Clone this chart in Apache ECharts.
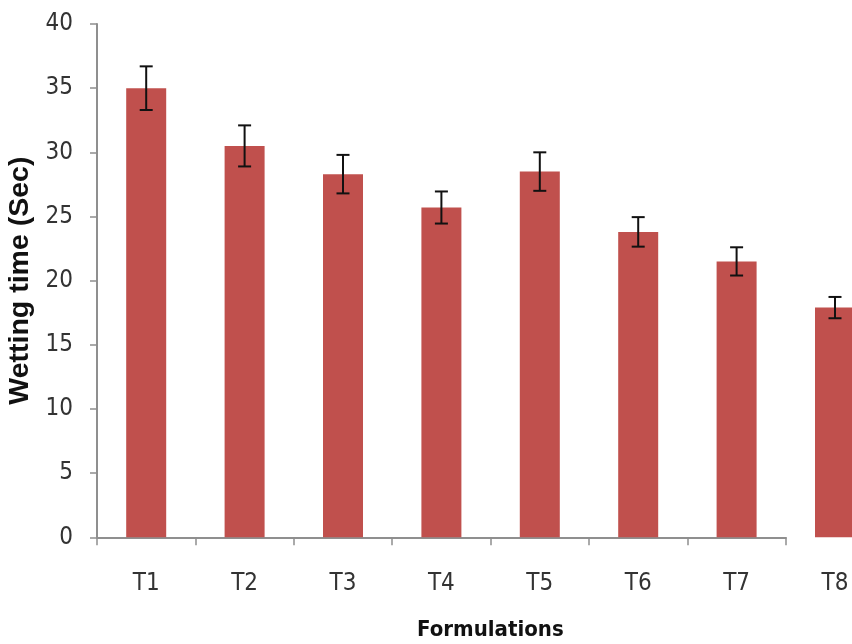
<!DOCTYPE html>
<html>
<head>
<meta charset="utf-8">
<script src="https://cdn.jsdelivr.net/npm/echarts@6/dist/echarts.min.js"></script>
<style>
html,body{margin:0;padding:0;background:#fff;}
#chart{width:852px;height:644px;}
</style>
</head>
<body>
<div id="chart"></div>
<script>
// ---- data ----
var categories = ['T1', 'T2', 'T3', 'T4', 'T5', 'T6', 'T7', 'T8'];
var wettingTime = [35.0, 30.5, 28.3, 25.7, 28.5, 23.8, 21.5, 17.9];
var errorSD = [1.7, 1.6, 1.5, 1.25, 1.5, 1.15, 1.1, 0.83];
var yTicks = { min: 0, max: 40, interval: 5 };
var xTitle = 'Formulations';
var yTitle = 'Wetting time (Sec)';

// the reference's x axis line covers T1..T7; T8 sits past its end
var splitAt = 7;

var narrow = "'Liberation Sans Narrow', 'DejaVu Sans Condensed', 'Arial Narrow', sans-serif";
var barColor = '#C0504D';
var axisColor = '#8f8f8f';

function errData(from, to) {
  var out = [];
  for (var i = from; i < to; i++) {
    out.push([categories[i], wettingTime[i], errorSD[i]]);
  }
  return out;
}

function renderErr(params, api) {
  var x = api.value(0);
  var v = api.value(1);
  var e = api.value(2);
  var hi = api.coord([x, v + e]);
  var lo = api.coord([x, v - e]);
  var hw = 6.5;
  var st = { stroke: '#111', lineWidth: 2 };
  return {
    type: 'group',
    children: [
      { type: 'line', shape: { x1: hi[0], y1: hi[1], x2: lo[0], y2: lo[1] }, style: st },
      { type: 'line', shape: { x1: hi[0] - hw, y1: hi[1], x2: hi[0] + hw, y2: hi[1] }, style: st },
      { type: 'line', shape: { x1: lo[0] - hw, y1: lo[1], x2: lo[0] + hw, y2: lo[1] }, style: st }
    ]
  };
}

var chart = echarts.init(document.getElementById('chart'), null, { renderer: 'canvas' });

var catW = 98.4;
var option = {
  backgroundColor: '#ffffff',
  animation: false,
  grid: [
    { left: 97, top: 24, width: catW * splitAt, height: 513.3, outerBoundsMode: 'none', containLabel: false },
    { left: 97 + catW * splitAt, top: 24, width: catW * (categories.length - splitAt), height: 513.3, outerBoundsMode: 'none', containLabel: false }
  ],
  xAxis: [
    {
      type: 'category', gridIndex: 0,
      data: categories.slice(0, splitAt),
      axisLine: { show: true, lineStyle: { color: axisColor, width: 2 } },
      axisTick: { show: true, length: 8, alignWithLabel: false, lineStyle: { color: axisColor, width: 1.5 } },
      axisLabel: { margin: 34, fontFamily: narrow, fontSize: 24, color: '#333' },
      splitLine: { show: false },
      name: xTitle,
      nameLocation: 'middle',
      nameGap: 82,
      nameTextStyle: { fontFamily: narrow, fontSize: 22, fontWeight: 'bold', color: '#111', padding: [0, 0, 0, 98] }
    },
    {
      type: 'category', gridIndex: 1,
      data: categories.slice(splitAt),
      axisLine: { show: false },
      axisTick: { show: false },
      axisLabel: { margin: 34, fontFamily: narrow, fontSize: 24, color: '#333' },
      splitLine: { show: false }
    }
  ],
  yAxis: [
    {
      type: 'value', gridIndex: 0,
      min: yTicks.min, max: yTicks.max, interval: yTicks.interval,
      axisLine: { show: true, lineStyle: { color: axisColor, width: 2 } },
      axisTick: { show: true, inside: false, length: 7, lineStyle: { color: axisColor, width: 1.5 } },
      axisLabel: { margin: 24, fontFamily: narrow, fontSize: 24, color: '#333' },
      splitLine: { show: false },
      name: yTitle,
      nameLocation: 'middle',
      nameGap: 57,
      nameRotate: 90,
      nameTextStyle: { fontFamily: "'Liberation Sans', Arial, sans-serif", fontSize: 28.5, fontWeight: 'bold', color: '#111' }
    },
    {
      type: 'value', gridIndex: 1,
      min: yTicks.min, max: yTicks.max, interval: yTicks.interval,
      show: false
    }
  ],
  series: [
    {
      type: 'bar', xAxisIndex: 0, yAxisIndex: 0,
      data: wettingTime.slice(0, splitAt),
      barWidth: 40,
      itemStyle: { color: barColor }
    },
    {
      type: 'bar', xAxisIndex: 1, yAxisIndex: 1,
      data: wettingTime.slice(splitAt),
      barWidth: 40,
      itemStyle: { color: barColor }
    },
    {
      type: 'custom', xAxisIndex: 0, yAxisIndex: 0,
      renderItem: renderErr,
      data: errData(0, splitAt),
      z: 10
    },
    {
      type: 'custom', xAxisIndex: 1, yAxisIndex: 1,
      renderItem: renderErr,
      data: errData(splitAt, categories.length),
      z: 10
    }
  ]
};
chart.setOption(option);
</script>
</body>
</html>
